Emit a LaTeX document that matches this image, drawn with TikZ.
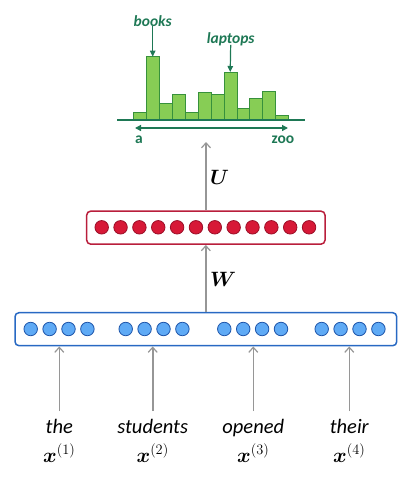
\documentclass[tikz,border=0pt]{standalone}
\usepackage{fontspec}
\usepackage{amsmath,bm}
\newfontfamily\carl{Carlito}
\usetikzlibrary{arrows.meta}
\definecolor{gtext}{RGB}{30,120,85}
\definecolor{gbar}{RGB}{135,205,85}
\definecolor{gbarline}{RGB}{55,145,60}
\definecolor{rboxc}{RGB}{185,30,60}
\definecolor{rfill}{RGB}{215,25,55}
\definecolor{rline}{RGB}{155,15,40}
\definecolor{bboxc}{RGB}{40,105,195}
\definecolor{bfill}{RGB}{95,170,245}
\definecolor{bline}{RGB}{30,85,170}
\definecolor{garr}{RGB}{150,150,150}
\tikzset{
  layerbox/.style={draw, rounded corners=4pt, line width=1.5pt, minimum height=33pt, inner sep=0pt},
  rdot/.style={circle, fill=rfill, draw=rline, line width=0.8pt, minimum size=13.5pt, inner sep=0pt},
  bdot/.style={circle, fill=bfill, draw=bline, line width=0.8pt, minimum size=13.5pt, inner sep=0pt},
  gar/.style={draw=garr, line width=1.6pt, -{Straight Barb[length=5pt,width=9pt,line width=1.2pt]}},
  word/.style={font=\carl\itshape\fontsize{20.5}{21}\selectfont, inner sep=0pt},
  xlab/.style={font=\fontsize{22}{23}\selectfont, inner sep=0pt},
  wlab/.style={font=\fontsize{22}{23}\selectfont, inner sep=0pt},
  bar/.style={fill=gbar, draw=gbarline, line width=0.8pt},
  glab/.style={text=gtext, inner sep=0pt},
  garrow/.style={draw=gtext, line width=1.2pt, -{Triangle[length=6pt,width=5.5pt]}},
}
\begin{document}
\begin{tikzpicture}[x=1pt,y=-1pt]
\useasboundingbox (0,0) rectangle (417,482);
% histogram bars
\foreach \i/\t in {0/112.3,1/56.7,2/103.3,3/94.3,4/112.3,5/92,6/94.3,7/72,8/108,9/98.7,10/91,11/115.3}{
  \draw[bar] (133.3+\i*12.95,120) rectangle (133.3+\i*12.95+12.95,\t);
}
\draw[draw=gtext, line width=1.5pt] (117,120) -- (305,120);
\draw[draw=gtext, line width=1.3pt, {Triangle[length=6pt,width=6pt]}-{Triangle[length=6pt,width=6pt]}] (135,128) -- (288,128);
\node[glab, font=\carl\bfseries\fontsize{15.5}{16}\selectfont] (la) at (139,140) {a};
\node[glab, font=\carl\bfseries\fontsize{15.5}{16}\selectfont] (lz) at (283,140) {zoo};
\node[glab, font=\carl\bfseries\itshape\fontsize{15.5}{16}\selectfont] (books) at (152.7,21) {books};
\node[glab, font=\carl\bfseries\itshape\fontsize{15.5}{16}\selectfont] (laptops) at (230.7,39) {laptops};
\coordinate (bookstop) at (152.7,56.7);
\coordinate (laptopstop) at (230.2,72);
\draw[garrow] (books.south) ++(0,-0.5) -- (bookstop);
\draw[garrow] (laptops.south) ++(0,-1) -- (laptopstop);
\coordinate (histbot) at (206,142);
% red layer
\node[layerbox, draw=rboxc, minimum width=238.3pt] (red) at (205.85,227.65) {};
\foreach \i in {0,...,11}{
  \node[rdot] (r\i) at (101.7+\i*18.85,227.3) {};
}
% blue layer
\node[layerbox, draw=bboxc, minimum width=381.7pt] (blue) at (205.85,329.2) {};
\foreach \g/\xs in {1/30.7,2/125.7,3/224.3,4/321.7}{
  \foreach \j in {0,...,3}{
    \node[bdot] (b\g\j) at (\xs+\j*18.9,329) {};
  }
}
% connections
\draw[gar] (red.north -| histbot) -- (histbot);
\draw[gar] (blue.north -| red.south) -- (red.south);
\node[wlab, anchor=west] (U) at (210,177) {$\bm{U}$};
\node[wlab, anchor=west] (W) at (210,279) {$\bm{W}$};
% words
\foreach \k/\x/\w in {1/59.3/the,2/152.7/students,3/253.3/opened,4/349.3/their}{
  \node[word, anchor=base] (w\k) at (\x,433) {\w};
  \node[xlab, anchor=base] (x\k) at (\x,462) {$\bm{x}^{(\k)}$};
  \coordinate (t\k) at (\x,411);
  \draw[gar] (t\k) -- (t\k |- blue.south);
}
\end{tikzpicture}
\end{document}
